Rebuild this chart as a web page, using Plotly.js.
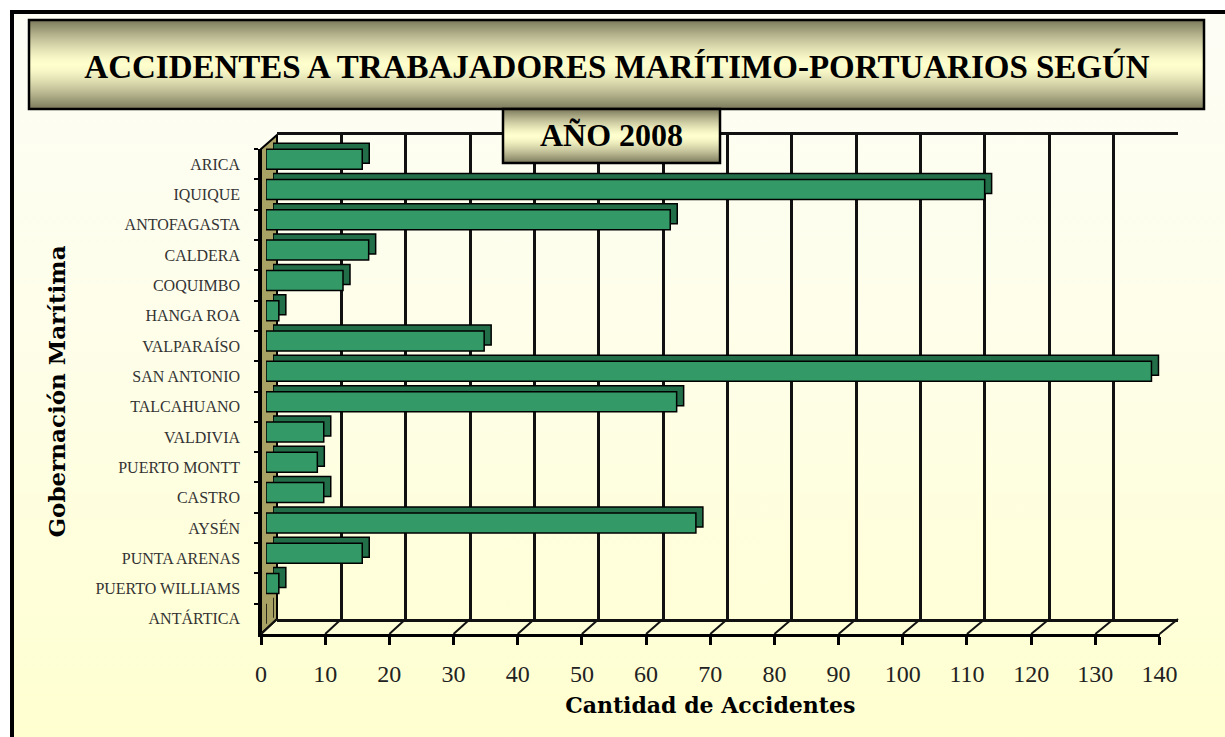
<!DOCTYPE html>
<html>
<head>
<meta charset="utf-8">
<script src="https://cdn.plot.ly/plotly-3.0.1.min.js"></script>
<style>
  html, body { margin:0; padding:0; background:#ffffff; }
  #wrap { position:relative; width:1225px; height:737px; overflow:hidden; background:#ffffff; }
  #frame { position:absolute; left:10px; top:10px; width:1260px; height:780px;
           border-left:4px solid #000; border-top:4px solid #000;
           background:linear-gradient(to bottom, #fdfdf6 0%, #fefee8 45%, #ffffcc 100%); }
  #chart { position:absolute; left:0; top:0; width:1225px; height:737px; }
</style>
</head>
<body>
<div id="wrap">
  <div id="frame"></div>
  <div id="chart"></div>
</div>
<script>
// ---- data ----
const categories = ['ARICA','IQUIQUE','ANTOFAGASTA','CALDERA','COQUIMBO','HANGA ROA','VALPARAÍSO',
  'SAN ANTONIO','TALCAHUANO','VALDIVIA','PUERTO MONTT','CASTRO','AYSÉN','PUNTA ARENAS',
  'PUERTO WILLIAMS','ANTÁRTICA'];
const accidentes = [15,112,63,16,12,2,34,138,64,9,8,9,67,15,2,0];
const xTicks = [0,10,20,30,40,50,60,70,80,90,100,110,120,130,140];
const xTickText = ['0','10','20','30','40','50','60','70','80','90','100','110','120','130','140'];
const titleText = 'ACCIDENTES A TRABAJADORES MARÍTIMO-PORTUARIOS SEGÚN';
const subtitleText = 'AÑO 2008';
const xTitle = 'Cantidad de Accidentes';
const yTitle = 'Gobernación Marítima';

// ---- geometry helpers (pixels -> paper) ----
const W = 1225, H = 737;
const px = x => x / W;
const py = y => 1 - y / H;
const xMax = 140;
const nCat = categories.length;

// boxes in pixels
const back  = {x0:277, x1:1178,  y0:135, y1:619};   // back wall (grid)
const shade = {x0:273, x1:1171.3,y0:138, y1:623};   // bar depth faces
const front = {x0:266, x1:1164.3,y0:144, y1:629};   // bar front faces
const axisF = {x0:261, x1:1159.5,y0:149, y1:634};   // front axes

const catRange = [nCat - 0.5, -0.5];

const traces = [
  { type:'scatter', mode:'markers', x:accidentes, y:categories, xaxis:'x', yaxis:'y',
    marker:{opacity:0}, hoverinfo:'skip' },
  { type:'bar', orientation:'h', x:accidentes, y:categories, xaxis:'x2', yaxis:'y2',
    marker:{color:'#226e49', line:{color:'#000', width:1.5}}, hoverinfo:'skip' },
  { type:'bar', orientation:'h', x:accidentes, y:categories, xaxis:'x3', yaxis:'y3',
    marker:{color:'#339966', line:{color:'#000', width:1.5}},
    hovertemplate:'%{y}: %{x}<extra></extra>' },
  { type:'scatter', mode:'markers', x:accidentes, y:categories, xaxis:'x4', yaxis:'y4',
    marker:{opacity:0}, hoverinfo:'skip' }
];

// ---- decorative shapes ----
const shapes = [];
// left wall
shapes.push({type:'path', xref:'paper', yref:'paper', layer:'below',
  path:`M ${px(axisF.x0)} ${py(axisF.y0)} L ${px(back.x0)} ${py(back.y0)} L ${px(back.x0)} ${py(back.y1)} L ${px(axisF.x0)} ${py(axisF.y1)} Z`,
  fillcolor:'#a9a265', line:{color:'#000', width:2}});
// floor diagonals at each tick
xTicks.forEach(v => {
  const fx = axisF.x0 + (axisF.x1 - axisF.x0) * v / xMax;
  const bx = back.x0 + (back.x1 - back.x0) * v / xMax;
  shapes.push({type:'line', xref:'paper', yref:'paper', layer:'below',
    x0:px(fx), y0:py(axisF.y1), x1:px(bx), y1:py(back.y1), line:{color:'#111', width:2}});
});

// gradient boxes
function gradBox(x0, x1, y0, y1) {
  const dark = [122,120,90], light = [255,255,206];
  const yc = (y0 + y1) / 2, half = (y1 - y0) / 2;
  for (let y = y0; y < y1; y += 1) {
    const t = Math.min(1, Math.abs(y + 0.5 - yc) / half);
    const m = Math.pow(t, 1.4);
    const c = dark.map((d, i) => Math.round(light[i] * (1 - m) + d * m));
    shapes.push({type:'rect', xref:'paper', yref:'paper', layer:'above',
      x0:px(x0), x1:px(x1), y0:py(y), y1:py(Math.min(y + 1.2, y1)),
      fillcolor:`rgb(${c[0]},${c[1]},${c[2]})`, line:{width:0}});
  }
  shapes.push({type:'rect', xref:'paper', yref:'paper', layer:'above',
    x0:px(x0), x1:px(x1), y0:py(y0), y1:py(y1), line:{color:'#000', width:2.5}});
}
gradBox(29, 1204, 20, 109);
gradBox(503, 720, 109, 163);

const serif = 'Liberation Serif, Times New Roman, serif';
const heavy = 'DejaVu Serif, serif';

const layout = {
  width:W, height:H, margin:{l:0, r:0, t:0, b:0},
  paper_bgcolor:'rgba(0,0,0,0)', plot_bgcolor:'rgba(0,0,0,0)',
  showlegend:false, bargap:0.34,
  title:{text:titleText, x:px(617), xanchor:'center', xref:'paper',
         y:py(66), yanchor:'middle', yref:'paper',
         font:{family:serif, size:33, color:'#000', weight:'bold'}},
  xaxis:{domain:[px(back.x0), px(back.x1)], range:[0, xMax], tickvals:xTicks,
         showgrid:true, gridcolor:'#111', gridwidth:2.5, showticklabels:false, ticks:'',
         zeroline:false, showline:true, mirror:true, linecolor:'#111', linewidth:2.5,
         anchor:'y', fixedrange:true},
  yaxis:{domain:[py(back.y1), py(back.y0)], type:'category', categoryorder:'array',
         categoryarray:categories, range:catRange, showgrid:false, showticklabels:false,
         zeroline:false, showline:false, ticks:'', anchor:'x', fixedrange:true},
  xaxis2:{domain:[px(shade.x0), px(shade.x1)], range:[0, xMax], visible:false, anchor:'y2', fixedrange:true},
  yaxis2:{domain:[py(shade.y1), py(shade.y0)], type:'category', categoryorder:'array',
          categoryarray:categories, range:catRange, visible:false, anchor:'x2', fixedrange:true},
  xaxis3:{domain:[px(front.x0), px(front.x1)], range:[0, xMax], visible:false, anchor:'y3', fixedrange:true},
  yaxis3:{domain:[py(front.y1), py(front.y0)], type:'category', categoryorder:'array',
          categoryarray:categories, range:catRange, visible:false, anchor:'x3', fixedrange:true},
  xaxis4:{domain:[px(axisF.x0), px(axisF.x1)], range:[0, xMax], tickvals:xTicks, ticktext:xTickText,
          showgrid:false, zeroline:false, showline:true, linecolor:'#000', linewidth:2.5,
          ticks:'outside', ticklen:8, tickwidth:2.5, tickcolor:'#000', ticklabelstandoff:8,
          tickfont:{family:serif, size:24, color:'#222'}, anchor:'y4', fixedrange:true,
          title:{text:xTitle, standoff:13, font:{family:heavy, size:22, color:'#000', weight:'bold'}}},
  yaxis4:{domain:[py(axisF.y1), py(axisF.y0)], type:'category', categoryorder:'array',
          categoryarray:categories, range:catRange, tickson:'boundaries',
          showgrid:false, zeroline:false, showline:true, linecolor:'#000', linewidth:2.5,
          ticks:'outside', ticklen:4, tickwidth:2, tickcolor:'#000', ticklabelstandoff:15,
          tickfont:{family:serif, size:16, color:'#333'}, anchor:'x4', fixedrange:true,
          title:{text:yTitle, standoff:24, font:{family:heavy, size:23, color:'#000', weight:'bold'}}},
  shapes:shapes,
  annotations:[
    {text:subtitleText, xref:'paper', yref:'paper', x:px(611.5), y:py(135),
     xanchor:'center', yanchor:'middle', showarrow:false,
     font:{family:serif, size:32, color:'#000', weight:'bold'}}
  ]
};

Plotly.newPlot('chart', traces, layout, {displayModeBar:false, staticPlot:false, responsive:false});
</script>
</body>
</html>
